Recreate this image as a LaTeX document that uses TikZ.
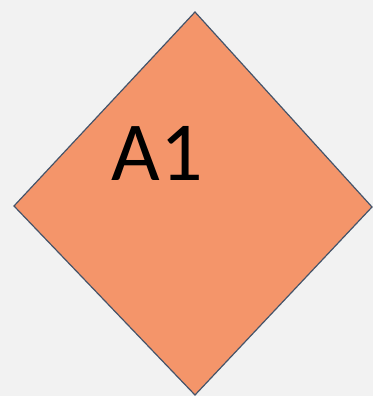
\documentclass[tikz,border=0pt]{standalone}
\usepackage{fontspec}
\setmainfont{Carlito}
\usepackage{tikz}
\usetikzlibrary{positioning}

\definecolor{pagebg}{HTML}{F2F2F2}
\definecolor{shapefill}{HTML}{F4956A}
\definecolor{shapeline}{HTML}{44546A}

\begin{document}
\begin{tikzpicture}[
  x=1pt, y=1pt,
  tile/.style={fill=shapefill, draw=shapeline, line width=1.2pt, line join=miter},
  tilelabel/.style={font=\fontsize{84}{84}\selectfont, text=black, inner sep=0pt, anchor=base}
]
  \fill[pagebg] (0,0) rectangle (373,396);
  \useasboundingbox (0,0) rectangle (373,396);
  % corners of the diamond
  \coordinate (ntop) at (195,384);
  \coordinate (nleft) at (14,190);
  \coordinate (nright) at (372,189);
  \coordinate (nbottom) at (195,1);
  \draw[tile] (ntop) -- (nright) -- (nbottom) -- (nleft) -- cycle;
  \node[tilelabel] (lblA) at (157,215) {A1};
\end{tikzpicture}
\end{document}
